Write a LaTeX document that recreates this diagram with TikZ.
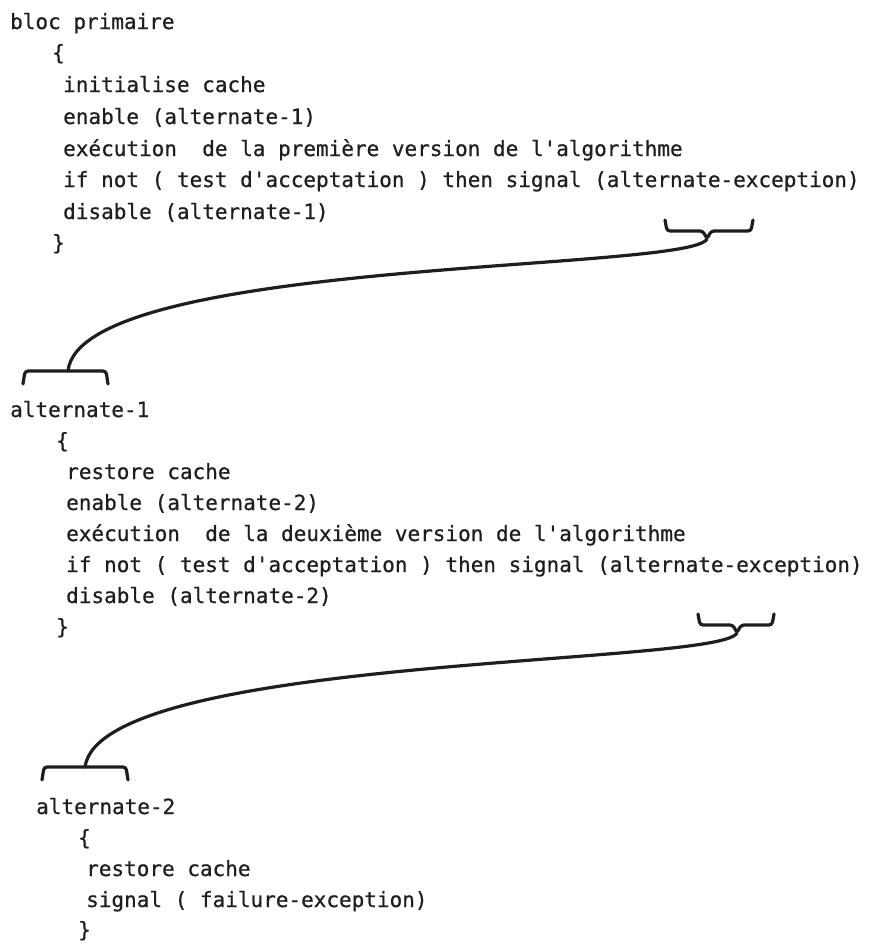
\documentclass[tikz,border=0pt]{standalone}
\usepackage{fontspec}
\newfontfamily\codefont[FakeBold=0.6]{DejaVu Sans Mono}
\definecolor{ink}{RGB}{30,30,30}
\begin{document}
\begin{tikzpicture}[x=1pt,y=-1pt,
  codeline/.style={font=\codefont\fontsize{21}{25}\selectfont, text=ink,
    anchor=base west, inner sep=0pt},
  bracepath/.style={draw=ink, line width=3.2pt, rounded corners=3pt,
    line join=round, line cap=round},
  link/.style={draw=ink, line width=3.2pt, line cap=round}]
\fill[white] (0,0) rectangle (868,945);

% primary block
\node[codeline] (p0) at (10,29)  {bloc primaire};
\node[codeline] (p1) at (52,60)  {\{};
\node[codeline] (p2) at (63,92)  {initialise cache};
\node[codeline] (p3) at (63,124) {enable (alternate-1)};
\node[codeline] (p4) at (63,156) {exécution\ \ de la première version de l'algorithme};
\node[codeline] (p5) at (63,187) {if not ( test d'acceptation ) then signal (alternate-exception)};
\node[codeline] (p6) at (63,219) {disable (alternate-1)};
\node[codeline] (p7) at (52,250) {\}};

% first alternate
\node[codeline] (a0) at (10,417) {alternate-1};
\node[codeline] (a1) at (56,448) {\{};
\node[codeline] (a2) at (66,479) {restore cache};
\node[codeline] (a3) at (66,510) {enable (alternate-2)};
\node[codeline] (a4) at (66,541) {exécution\ \ de la deuxième version de l'algorithme};
\node[codeline] (a5) at (66,572) {if not ( test d'acceptation ) then signal (alternate-exception)};
\node[codeline] (a6) at (66,603) {disable (alternate-2)};
\node[codeline] (a7) at (56,634) {\}};

% second alternate
\node[codeline] (b0) at (36,814) {alternate-2};
\node[codeline] (b1) at (78,845) {\{};
\node[codeline] (b2) at (86,876) {restore cache};
\node[codeline] (b3) at (86,907) {signal ( failure-exception)};
\node[codeline] (b4) at (78,937) {\}};

% braces
\draw[bracepath] (665,220) -- (667,231) -- (703,231) -- (707,239) -- (711,231) -- (751,231) -- (753,220);
\coordinate (t1) at (707,239);
\draw[bracepath] (698,614) -- (700,625) -- (733,625) -- (737,633) -- (741,625) -- (772,625) -- (774,614);
\coordinate (t2) at (737,633);
\draw[bracepath] (23,384) -- (25,371) -- (106,371) -- (108,384);
\coordinate (t3) at (68,371);
\draw[bracepath] (42,780) -- (44,767) -- (126,767) -- (128,780);
\coordinate (t4) at (85,767);

% connecting curves
\draw[link] (t1) .. controls (690,272) and (80,258) .. (t3);
\draw[link] (t2) .. controls (720,666) and (100,655) .. (t4);
\end{tikzpicture}
\end{document}
